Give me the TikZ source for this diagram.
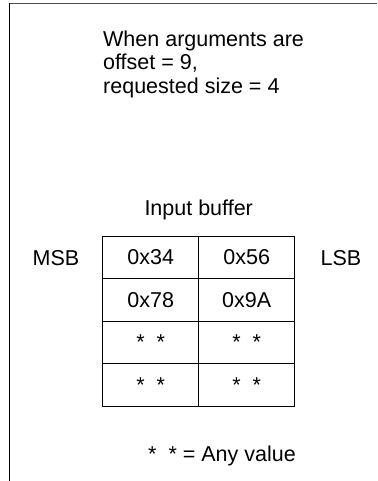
\documentclass[tikz,border=0pt]{standalone}
\usepackage{fontspec}
\setmainfont{Liberation Sans}
\usepackage{tikz}
\usetikzlibrary{positioning}
\tikzset{cell/.style = {draw, line width=1.1pt, minimum width=96pt, minimum height=42.5pt, inner sep=0, font=\fontsize{21.5}{23.5}\selectfont}}
\tikzset{lbl/.style = {draw=none, inner sep=0, font=\fontsize{21.5}{23.5}\selectfont}}
\newcommand{\anyv}{*\hspace{12pt}*}

\begin{document}
\begin{tikzpicture}[x=1pt, y=-1pt]
\useasboundingbox (0,0) rectangle (377,481);
% frame
\draw [line width=1.2pt, black!70] (9,3.5) -- (377,3.5);
\draw [line width=1.5pt] (9.5,3) -- (9.5,481);
% header
\node [lbl, align=left, anchor=north west] (head) at (103,30.5) {When arguments are\\offset = 9,\\requested size = 4};
% buffer
\node [cell] (a1) at (150.7,257.3) {0x34};
\node [cell] (a2) at (246.7,257.3) {0x56};
\node [cell] (b1) at (150.7,299.8) {0x78};
\node [cell] (b2) at (246.7,299.8) {0x9A};
\node [cell] (c1) at (150.7,342.3) {\anyv};
\node [cell] (c2) at (246.7,342.3) {\anyv};
\node [cell] (d1) at (150.7,384.8) {\anyv};
\node [cell] (d2) at (246.7,384.8) {\anyv};
\node [lbl, anchor=base] (title) at (198.7,215) {Input buffer};
\node [lbl, anchor=base] (msb) at (56,265) {MSB};
\node [lbl, anchor=base] (lsb) at (341,265) {LSB};
% legend
\node [lbl, anchor=base] (key) at (222,461) {\anyv{} = Any value};
\end{tikzpicture}
\end{document}
